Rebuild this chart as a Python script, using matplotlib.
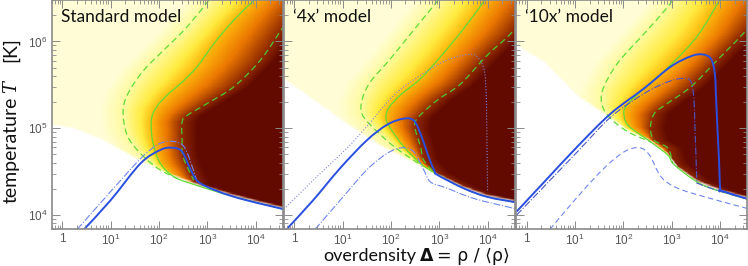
import numpy as np
import matplotlib
matplotlib.use('Agg')
import matplotlib.pyplot as plt
from matplotlib.colors import LinearSegmentedColormap
from matplotlib.patches import PathPatch
from matplotlib.path import Path
from matplotlib.ticker import NullFormatter

plt.rcParams['font.family'] = ['Liberation Sans', 'DejaVu Sans']
plt.rcParams['mathtext.default'] = 'regular'

# everything is log10(overdensity), log10(T)
titles = ['Standard model', '\u20184x\u2019 model', '\u201810x\u2019 model']
x_ticks = [1, 10, 100, 1000, 10000]
x_labels = ['1', '10$^{1}$', '10$^{2}$', '10$^{3}$', '10$^{4}$']
y_ticks = [1e4, 1e5, 1e6]
y_labels = ['10$^{4}$', '10$^{5}$', '10$^{6}$']

# standard model
std_floor_x = [-0.21, 0.24, 0.79, 1.48, 2.03, 2.72, 3.55, 4.10, 4.60]
std_floor_t = [5.025, 4.987, 4.864, 4.653, 4.50, 4.353, 4.211, 4.134, 4.065]
std_solid_x = [3.97, 3.55, 3.14, 2.79, 2.45, 2.17, 1.93, 1.84, 1.88, 2.03, 2.31, 2.72, 3.55, 4.60]
std_solid_t = [6.476, 6.246, 5.977, 5.708, 5.516, 5.382, 5.228, 5.075, 4.825, 4.595, 4.441, 4.353, 4.211, 4.065]
std_left_x = [3.03, 2.93, 2.52, 2.10, 1.69, 1.38, 1.26, 1.33, 1.55, 1.97, 2.38]
std_left_t = [6.476, 6.40, 6.13, 5.90, 5.67, 5.42, 5.21, 4.94, 4.75, 4.54, 4.42]
std_right_x = [4.95, 4.55, 4.10, 3.55, 3.0, 2.59, 2.48, 2.48, 2.50, 2.72]
std_right_t = [6.476, 6.15, 5.785, 5.478, 5.286, 5.15, 5.075, 4.86, 4.67, 4.40]
std_blue_x = [0.45, 1.0, 1.62, 2.03, 2.28, 2.48, 2.66, 2.86, 3.55, 4.60]
std_blue_t = [3.835, 4.17, 4.595, 4.75, 4.775, 4.73, 4.52, 4.365, 4.211, 4.065]
std_thin_x = [0.31, 1.0, 1.62, 1.97, 2.24, 2.48, 2.62, 2.79]
std_thin_t = [3.835, 4.27, 4.65, 4.81, 4.85, 4.81, 4.67, 4.38]

# 4x model
x4_floor_x = [-0.23, 0.39, 1.09, 1.78, 2.47, 2.95, 3.51, 3.99, 4.60]
x4_floor_t = [5.56, 5.32, 5.036, 4.787, 4.595, 4.46, 4.307, 4.21, 4.145]
x4_solid_x = [3.94, 3.51, 3.02, 2.61, 2.19, 1.95, 1.90, 1.99, 2.26, 2.61, 2.92, 3.51, 3.99, 4.60]
x4_solid_t = [6.476, 6.15, 5.82, 5.57, 5.38, 5.23, 5.11, 5.0, 4.79, 4.595, 4.48, 4.307, 4.21, 4.145]
x4_left_x = [2.98, 2.47, 1.99, 1.57, 1.40, 1.40, 1.57, 2.06, 2.61]
x4_left_t = [6.476, 6.13, 5.80, 5.53, 5.32, 5.17, 5.04, 4.79, 4.58]
x4_right_x = [5.0, 4.51, 3.99, 3.44, 2.95, 2.54, 2.50, 2.61, 2.68, 2.92]
x4_right_t = [6.476, 6.11, 5.84, 5.51, 5.32, 5.11, 5.0, 4.79, 4.63, 4.48]
x4_blue_x = [-0.16, 0.39, 0.95, 1.50, 1.92, 2.26, 2.47, 2.61, 2.78, 2.90, 2.97, 3.51, 3.99, 4.60]
x4_blue_t = [3.835, 4.17, 4.54, 4.86, 5.04, 5.11, 5.09, 4.94, 4.67, 4.51, 4.46, 4.307, 4.21, 4.145]
x4_dot_x = [-0.30, 0.39, 1.09, 1.5, 2.06, 2.61, 3.16, 3.61, 3.79, 3.93, 3.97, 3.98, 3.99, 4.0]
x4_dot_t = [4.02, 4.40, 4.77, 5.02, 5.38, 5.61, 5.785, 5.85, 5.82, 5.67, 5.40, 5.13, 4.70, 4.27]
x4_thin_x = [0.43, 0.95, 1.50, 1.92, 2.23, 2.47, 2.68, 2.82, 3.16, 3.72, 4.60]
x4_thin_t = [3.835, 4.17, 4.52, 4.71, 4.775, 4.73, 4.52, 4.38, 4.31, 4.19, 4.07]

# 10x model
x10_floor_x = [-0.21, 0.36, 1.05, 1.67, 2.09, 2.57, 2.92, 3.12, 3.54, 4.02, 4.60]
x10_floor_t = [5.94, 5.75, 5.36, 5.13, 4.96, 4.84, 4.69, 4.54, 4.376, 4.27, 4.18]
x10_solid_x = [3.99, 3.54, 2.98, 2.43, 2.05, 2.02, 2.12, 2.57, 2.92, 3.05, 3.54, 4.02, 4.60]
x10_solid_t = [6.476, 6.07, 5.73, 5.46, 5.25, 5.13, 5.02, 4.84, 4.69, 4.58, 4.376, 4.27, 4.18]
x10_left_x = [3.0, 2.92, 2.43, 1.88, 1.57, 1.57, 1.74, 2.09, 2.57]
x10_left_t = [6.476, 6.40, 6.09, 5.75, 5.44, 5.25, 5.11, 4.96, 4.84]
x10_right_x = [5.0, 4.54, 3.95, 3.40, 2.92, 2.64, 2.56, 2.64, 2.92, 3.02]
x10_right_t = [6.476, 6.13, 5.79, 5.48, 5.29, 5.17, 5.0, 4.86, 4.77, 4.595]
x10_blue_x = [-0.21, 0.36, 1.05, 1.74, 2.43, 2.98, 3.40, 3.64, 3.81, 3.89, 3.92, 3.95, 3.98, 4.0, 4.03, 4.60]
x10_blue_t = [4.04, 4.38, 4.79, 5.17, 5.46, 5.71, 5.83, 5.85, 5.80, 5.63, 5.30, 4.94, 4.60, 4.30, 4.28, 4.18]
x10_dot_x = [-0.21, 0.36, 1.05, 1.74, 2.43, 2.92, 3.23, 3.40, 3.46, 3.48, 3.50, 3.52, 3.56, 4.02, 4.60]
x10_dot_t = [4.0, 4.33, 4.73, 5.13, 5.40, 5.535, 5.574, 5.535, 5.32, 5.00, 4.70, 4.40, 4.36, 4.27, 4.18]
x10_thin_x = [0.48, 1.05, 1.60, 2.02, 2.33, 2.54, 2.78, 3.12, 3.68, 4.60]
x10_thin_t = [3.835, 4.21, 4.54, 4.73, 4.775, 4.69, 4.44, 4.31, 4.21, 4.07]

heat = LinearSegmentedColormap.from_list('heat', [
    (0.0, (1.0, 0.99, 0.84)),
    (0.25, (1.0, 0.98, 0.62)),
    (0.40, (1.0, 0.92, 0.25)),
    (0.50, (1.0, 0.72, 0.05)),
    (0.62, (0.92, 0.47, 0.0)),
    (0.75, (0.56, 0.16, 0.0)),
    (1.0, (0.39, 0.04, 0.0)),
])


def curve_at(logt, cx, ct):
    order = np.argsort(ct)
    return np.interp(logt, np.array(ct)[order], np.array(cx)[order])


def draw_field(ax, floor, left, solid, right):
    logx = np.linspace(-0.22, 4.56, 480)
    logt = np.linspace(3.84, 6.48, 400)
    level = np.zeros((logt.size, logx.size))
    for i, t in enumerate(logt):
        a = curve_at(t, *left)
        b = max(curve_at(t, *solid), a + 0.01)
        c = max(curve_at(t, *right), b + 0.01)
        level[i] = np.interp(logx, [a - 0.5, a, b, c, c + 0.3], [0, 1, 2, 3, 4])
    edge = np.interp(logx, floor[0], floor[1])
    alpha = np.clip((logt[:, None] - edge[None, :]) / 0.035, 0, 1)
    ax.pcolormesh(10**logx, 10**logt, level, cmap=heat, vmin=0, vmax=4,
                  alpha=alpha, shading='nearest', rasterized=True)


# the read points joined by bezier pieces so the line has no corners
def lines(ax, cx, ct, color, lw, ls='-'):
    pts = np.column_stack([cx, ct])
    verts = [pts[0]]
    codes = [Path.MOVETO]
    for i in range(len(pts) - 1):
        before = pts[max(i - 1, 0)]
        after = pts[min(i + 2, len(pts) - 1)]
        verts += [pts[i] + (pts[i + 1] - before) / 6, pts[i + 1] - (after - pts[i]) / 6, pts[i + 1]]
        codes += [Path.CURVE4] * 3
    ax.add_patch(PathPatch(Path(10**np.array(verts), codes), fill=False, edgecolor=color, lw=lw, ls=ls))


fig = plt.figure(figsize=(7.48, 2.66), dpi=100)
W, H = 748.0, 266.0
lefts = [51.5, 283.5, 516.0]
grey = '#8a8a8a'
green = '#5fdc35'
blue = '#2a4fe0'
thin = '#6f86ee'
dashed = (0, (5, 3))

panels = [
    ((std_floor_x, std_floor_t), (std_left_x, std_left_t), (std_solid_x, std_solid_t), (std_right_x, std_right_t),
     (std_blue_x, std_blue_t), None, (std_thin_x, std_thin_t)),
    ((x4_floor_x, x4_floor_t), (x4_left_x, x4_left_t), (x4_solid_x, x4_solid_t), (x4_right_x, x4_right_t),
     (x4_blue_x, x4_blue_t), (x4_dot_x, x4_dot_t), (x4_thin_x, x4_thin_t)),
    ((x10_floor_x, x10_floor_t), (x10_left_x, x10_left_t), (x10_solid_x, x10_solid_t), (x10_right_x, x10_right_t),
     (x10_blue_x, x10_blue_t), (x10_dot_x, x10_dot_t), (x10_thin_x, x10_thin_t)),
]

for n, p in enumerate(panels):
    floor, left, solid, right, main, dot, low = p
    ax = fig.add_axes([lefts[n] / W, 1 - 228.5 / H, 231 / W, 228.5 / H])
    ax.set_xscale('log')
    ax.set_yscale('log')
    draw_field(ax, floor, left, solid, right)
    lines(ax, *solid, green, 0.9)
    lines(ax, *left, green, 0.9, dashed)
    lines(ax, *right, '#4fc82a', 0.9, dashed)
    if n == 0:
        lines(ax, *low, thin, 0.8, '-.')
    elif n == 1:
        lines(ax, *dot, '#7d86d8', 0.8, ':')
        lines(ax, *low, thin, 0.8, '-.')
    else:
        lines(ax, *dot, '#4a55c8', 0.8, '-.')
        lines(ax, *low, thin, 0.8, dashed)
    lines(ax, *main, blue, 1.4)

    ax.set_xlim(0.6, 3.6e4)
    ax.set_ylim(7e3, 3e6)
    ax.set_xticks(x_ticks, x_labels)
    ax.set_yticks(y_ticks, y_labels if n == 0 else ['', '', ''])
    ax.xaxis.set_minor_formatter(NullFormatter())
    ax.yaxis.set_minor_formatter(NullFormatter())
    ax.tick_params(which='major', direction='in', length=6, width=0.7, color=grey, top=True, right=True,
                   labelsize=8.5, labelcolor='#555555', pad=3)
    ax.tick_params(which='minor', direction='in', length=3, width=0.6, color=grey, top=True, right=True)
    for s in ax.spines.values():
        s.set_color(grey)
        s.set_linewidth(1.2)
    ax.text(0.04, 0.925, titles[n], transform=ax.transAxes, family=['Lato', 'DejaVu Sans'],
            fontsize=12.5, color='#111111', va='center')

fig.text(11 / W, 1 - 150 / H, 'temperature', rotation=90, va='center', ha='center',
         fontsize=14, family=['Lato', 'DejaVu Sans'], color='#111111')
fig.text(11 / W, 1 - 87 / H, 'T', rotation=90, va='center', ha='center', style='italic',
         fontsize=13, family=['DejaVu Serif'], color='#111111')
fig.text(11 / W, 1 - 50 / H, '[K]', rotation=90, va='center', ha='center',
         fontsize=14, family=['Lato', 'DejaVu Sans'], color='#111111')
fig.text(323 / W, 1 - 256 / H, 'overdensity', va='center', fontsize=13,
         family=['Lato', 'DejaVu Sans'], color='#111111')
fig.text(420 / W, 1 - 256 / H, '\u0394', va='center', fontsize=12.5, weight='bold',
         family=['DejaVu Sans'], color='#111111')
fig.text(437 / W, 1 - 256 / H, '= \u03c1 / \u27e8\u03c1\u27e9', va='center', fontsize=12.5,
         family=['DejaVu Sans'], color='#111111')

fig.savefig('out.png', dpi=100)
